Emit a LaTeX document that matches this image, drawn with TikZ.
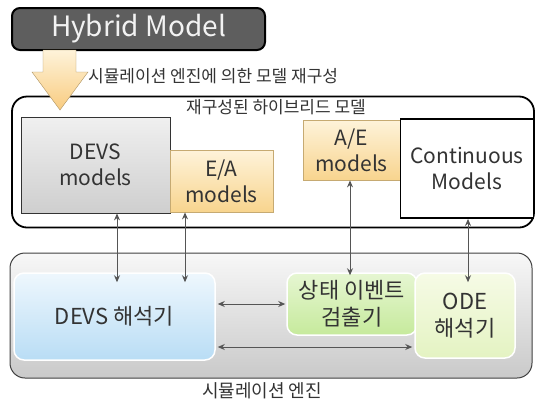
\documentclass[tikz,border=0pt]{standalone}
\usepackage{fontspec}
\setmainfont{Noto Sans CJK KR}
\usetikzlibrary{positioning,arrows.meta}

\definecolor{hybgray}{HTML}{5E5E5E}
\definecolor{txtgray}{HTML}{333333}
\definecolor{lnkgray}{HTML}{555555}
\definecolor{orgtop}{HTML}{FEF3DA}
\definecolor{orgbot}{HTML}{F8D48E}
\definecolor{bluetop}{HTML}{EEF7FD}
\definecolor{bluebot}{HTML}{B9DDF5}
\definecolor{grntop}{HTML}{E6F6D2}
\definecolor{grnbot}{HTML}{C6EA9C}
\definecolor{odetop}{HTML}{F6FBE6}
\definecolor{odebot}{HTML}{E4F3C2}

\begin{document}
\begin{tikzpicture}[x=1pt, y=-1pt,
  container/.style={draw=black, line width=1.8pt, rounded corners=15pt, inner sep=0pt},
  model/.style={draw=black!80, line width=0.8pt, inner sep=0pt, align=center, text=txtgray, font=\fontsize{21}{26}\selectfont},
  solver/.style={draw=white, line width=1.5pt, rounded corners=10pt, inner sep=0pt, align=center, text=txtgray, font=\fontsize{22}{27}\selectfont},
  caption/.style={text=txtgray, inner sep=0pt, font=\fontsize{17}{20}\selectfont},
  link/.style={lnkgray, line width=1pt, {Stealth[length=7pt,width=6pt]}-{Stealth[length=7pt,width=6pt]}}]
  \useasboundingbox (0,0) rectangle (537,402);

  % top: the hybrid model
  \node[draw=black, line width=2pt, rounded corners=8pt, fill=hybgray, text=white!95!black,
        minimum width=253pt, minimum height=42pt, inner sep=0pt,
        font=\fontsize{28}{32}\selectfont] (hybrid) at (138.5,29) {Hybrid Model};
  \node[caption, anchor=west] (recon) at (88,76) {시뮬레이션 엔진에 의한 모델 재구성};

  % reconstructed hybrid model
  \node[container, minimum width=522pt, minimum height=131pt] (upper) at (273,162) {};
  \node[caption] (upperlbl) at (276,107) {재구성된 하이브리드 모델};
  \node[model, top color=gray!12, bottom color=gray!38, minimum width=149pt, minimum height=96pt] (devsm) at (95.5,165) {DEVS\\models};
  \node[model, draw=orgbot!80!black, top color=orgtop, bottom color=orgbot, minimum width=103pt, minimum height=62pt] (eam) at (221.5,181) {E/A\\models};
  \node[model, draw=orgbot!80!black, top color=orgtop, bottom color=orgbot, minimum width=97pt, minimum height=60pt] (aem) at (351.5,150) {A/E\\models};
  \node[model, draw=black, line width=1.8pt, fill=white, minimum width=133pt, minimum height=99pt] (contm) at (467,168.5) {Continuous\\Models};

  % big arrow into the reconstruction
  \shade[top color=orgtop, bottom color=orgbot!90!orange, draw=orgbot!70!black, line width=0.4pt]
    (43,50) -- (76,50) -- (76,72) -- (88,72) -- (60,110) -- (32,72) -- (43,72) -- cycle;

  % simulation engine
  \node[draw=black!75, line width=1pt, rounded corners=15pt, top color=gray!6, bottom color=gray!42,
        minimum width=522pt, minimum height=125pt, inner sep=0pt] (engine) at (271,315.5) {};
  \node[caption, font=\fontsize{18}{20}\selectfont] (enginelbl) at (262,391) {시뮬레이션 엔진};
  \node[solver, top color=bluetop, bottom color=bluebot, minimum width=201pt, minimum height=87pt] (devss) at (114.5,316.5) {DEVS 해석기};
  \node[solver, top color=grntop, bottom color=grnbot, minimum width=130pt, minimum height=62pt] (sed) at (352,304) {상태 이벤트\\검출기};
  \node[solver, top color=odetop, bottom color=odebot, minimum width=100pt, minimum height=85pt] (odes) at (465,315.5) {ODE\\해석기};

  % links between models and solvers
  \coordinate (p1) at ([xshift=21.5pt]devsm.south);
  \coordinate (p2) at ([xshift=-36.5pt]eam.south);
  \coordinate (p3) at ([xshift=-1.5pt]aem.south);
  \coordinate (p4) at ([xshift=1pt]contm.south);
  \draw[link] (p1) -- ([yshift=-10pt]p1 |- devss.north);
  \draw[link] (p2) -- ([yshift=-10pt]p2 |- devss.north);
  \draw[link] (p3) -- ([yshift=-3pt]p3 |- sed.north);
  \draw[link] (p4) -- ([yshift=-10pt]p4 |- odes.north);

  % links between solvers
  \draw[link] ([xshift=2pt]devss.east |- sed.west) -- ([xshift=-1pt]sed.west);
  \draw[link] ([xshift=2pt,yshift=-30.5pt]devss.east) -- ([xshift=-2pt,yshift=-30.5pt]devss.east -| odes.west);
\end{tikzpicture}
\end{document}
